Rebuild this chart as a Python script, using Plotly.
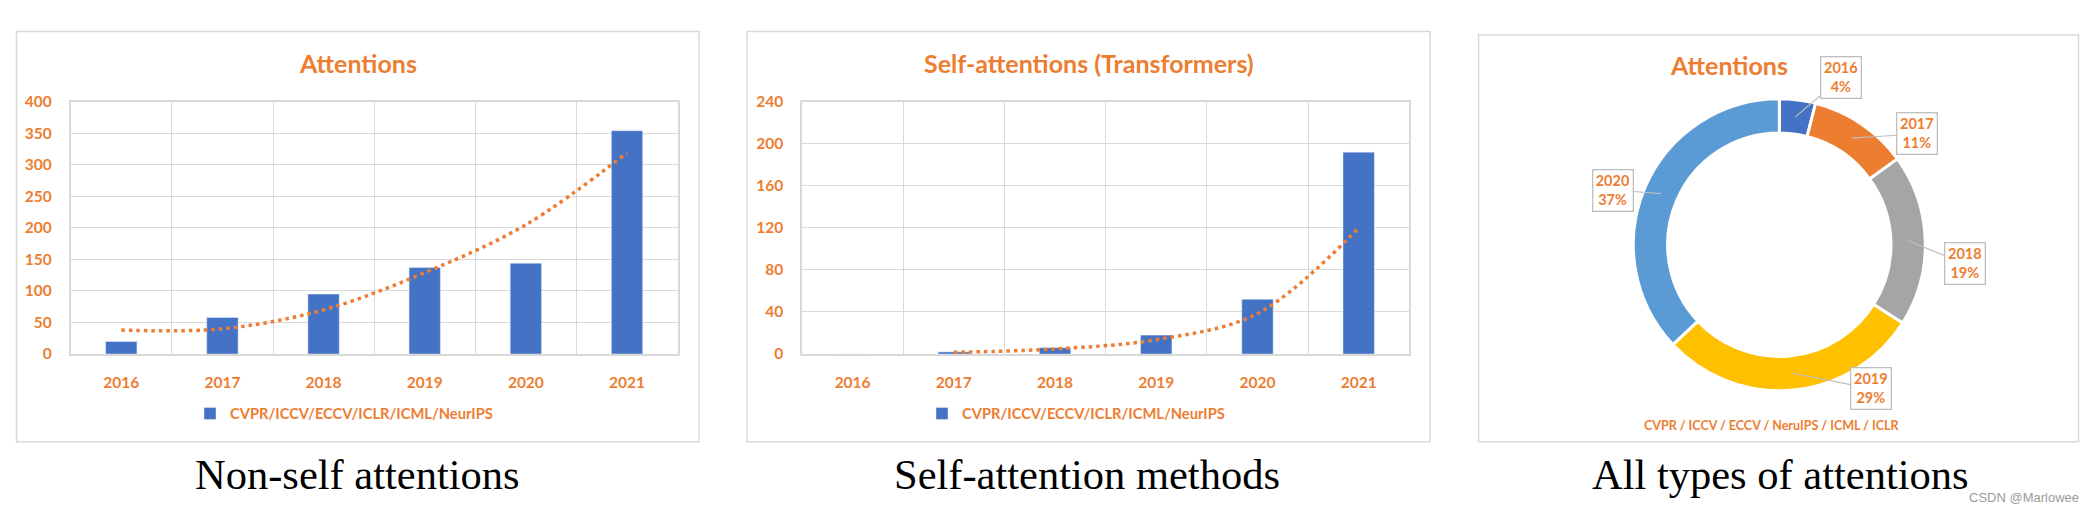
import math
import plotly.graph_objects as go

# ---------------- data ----------------
years = ['2016', '2017', '2018', '2019', '2020', '2021']
nonself_counts = [20, 58, 95, 137, 144, 354]
nonself_trend = [38, 40, 70, 129, 205, 319]          # read from the dotted trendline
self_counts = [0, 2, 6, 18, 52, 192]
self_trend = [None, 1.6, 4.8, 13.7, 38.5, 120]       # read from the dotted trendline
y_ticks_nonself = [0, 50, 100, 150, 200, 250, 300, 350, 400]
y_ticks_self = [0, 40, 80, 120, 160, 200, 240]

pie_years = ['2016', '2017', '2018', '2019', '2020']
pie_percent = [4, 11, 19, 29, 37]

series_name = 'CVPR/ICCV/ECCV/ICLR/ICML/NeurIPS'
pie_caption = 'CVPR / ICCV / ECCV / NeruIPS / ICML / ICLR'
titles = ['Attentions', 'Self-attentions (Transformers)', 'Attentions']
captions = ['Non-self attentions', 'Self-attention methods', 'All types of attentions']

# ---------------- style ----------------
W, H = 2093, 512
ORANGE = '#ED7D31'
BLUE = '#4472C4'
GRID = '#D9D9D9'
FONT = 'Lato'
pie_colors = ['#4472C4', '#ED7D31', '#A5A5A5', '#FFC000', '#5B9BD5']


def px(x):
    return x / W


def py(y):
    return 1 - y / H


fig = go.Figure()

trend_line = dict(color=ORANGE, width=3.5, dash='3.5px,4px', shape='spline')

fig.add_trace(go.Bar(x=years, y=nonself_counts, name=series_name, marker_color=BLUE,
                     xaxis='x', yaxis='y', legend='legend'))
fig.add_trace(go.Scatter(x=years, y=nonself_trend, mode='lines', line=trend_line,
                         showlegend=False, hoverinfo='skip', xaxis='x', yaxis='y'))
fig.add_trace(go.Bar(x=years, y=self_counts, name=series_name, marker_color=BLUE,
                     xaxis='x2', yaxis='y2', legend='legend2'))
fig.add_trace(go.Scatter(x=years, y=self_trend, mode='lines', line=trend_line,
                         showlegend=False, hoverinfo='skip', xaxis='x2', yaxis='y2'))

# donut
cx, cy, R = 1779.3, 244.7, 146.0
hole = 0.765
fig.add_trace(go.Pie(labels=pie_years, values=pie_percent, hole=hole, sort=False,
                     direction='clockwise', rotation=0,
                     marker=dict(colors=pie_colors, line=dict(color='white', width=3)),
                     textinfo='none', showlegend=False, hoverinfo='label+percent',
                     domain=dict(x=[px(cx - R), px(cx + R)], y=[py(cy + R), py(cy - R)])))

tick_font = dict(family=FONT, size=15.5, color=ORANGE, weight='bold')
xcommon = dict(type='category', tickson='boundaries', showgrid=True, gridcolor=GRID,
               gridwidth=1.3, showline=True, linecolor=GRID, linewidth=1.5, mirror=True,
               ticks='', tickfont=tick_font, ticklabelstandoff=14, fixedrange=True,
               automargin=False)
ycommon = dict(showgrid=True, gridcolor=GRID, gridwidth=1.3, showline=True, linecolor=GRID,
               linewidth=1.5, mirror=True, ticks='', zeroline=False, tickfont=tick_font,
               ticklabelstandoff=14, fixedrange=True, automargin=False)

legend_font = dict(family=FONT, size=14.7, color=ORANGE, weight='bold')
ydom = [py(354), py(101.7)]
fig.update_layout(
    width=W, height=H, margin=dict(l=0, r=0, t=0, b=0, pad=0),
    paper_bgcolor='white', plot_bgcolor='white', bargap=0.69,
    xaxis=dict(domain=[px(70.7), px(677.6)], **xcommon),
    yaxis=dict(domain=ydom, range=[0, 400], tickvals=y_ticks_nonself, **ycommon),
    xaxis2=dict(domain=[px(802), px(1409.3)], anchor='y2', **xcommon),
    yaxis2=dict(domain=ydom, range=[0, 240], tickvals=y_ticks_self, anchor='x2', **ycommon),
    legend=dict(x=px(190), y=py(414), xanchor='left', yanchor='middle',
                font=legend_font, bgcolor='rgba(0,0,0,0)'),
    legend2=dict(x=px(922), y=py(414), xanchor='left', yanchor='middle',
                 font=legend_font, bgcolor='rgba(0,0,0,0)'),
)

# panel frames
for (x0, y0, x1, y1) in [(16.5, 31.5, 699, 441.7), (747, 31.5, 1430, 441.7), (1478.6, 35, 2078.5, 441.7)]:
    fig.add_shape(type='rect', xref='paper', yref='paper', x0=px(x0), x1=px(x1), y0=py(y1), y1=py(y0),
                  line=dict(color=GRID, width=1.5), layer='below')

ann = []
title_pos = [(358, 63), (1089, 63), (1728.5, 65)]
for t, (x, y) in zip(titles, title_pos):
    ann.append(dict(text=t, x=px(x), y=py(y), xref='paper', yref='paper', showarrow=False,
                    xanchor='center', yanchor='middle',
                    font=dict(family=FONT, size=25, color=ORANGE, weight='bold')))

caption_pos = [357, 1087, 1780]
for c, x in zip(captions, caption_pos):
    ann.append(dict(text=c, x=px(x), y=py(474), xref='paper', yref='paper', showarrow=False,
                    xanchor='center', yanchor='middle',
                    font=dict(family='Liberation Serif', size=42.5, color='black')))

ann.append(dict(text=pie_caption, x=px(1771), y=py(425), xref='paper', yref='paper', showarrow=False,
                xanchor='center', yanchor='middle',
                font=dict(family=FONT, size=12.5, color=ORANGE, weight='bold')))

ann.append(dict(text='CSDN @Marlowee', x=px(2023.5), y=py(497), xref='paper', yref='paper',
                showarrow=False, xanchor='center', yanchor='middle',
                font=dict(family='Liberation Sans', size=13, color='#9A9A9A')))

# donut callouts: tip at the middle of each ring segment, box offset in pixels
label_offsets = [(45.6, -38.9), (65.3, -4.2), (56.5, 23.3), (79.6, 15.6), (-48.1, -3.5)]
total = sum(pie_percent)
r_mid = R * (1 + hole) / 2
cum = 0
for yr, pct, (dx, dy) in zip(pie_years, pie_percent, label_offsets):
    mid = (cum + pct / 2) / total * 2 * math.pi
    cum += pct
    tx = cx + r_mid * math.sin(mid)
    ty = cy - r_mid * math.cos(mid)
    ann.append(dict(text=f'{yr}<br>{pct}%', x=px(tx), y=py(ty), xref='paper', yref='paper',
                    showarrow=True, ax=dx, ay=dy, arrowhead=0, arrowwidth=1.2, arrowcolor='#BFBFBF',
                    standoff=0, bgcolor='white', bordercolor='#BFBFBF', borderwidth=1.3,
                    borderpad=1.5, width=36, height=37,
                    font=dict(family=FONT, size=14.5, color=ORANGE, weight='bold')))

fig.update_layout(annotations=ann)
fig.write_html('out.html', config={'displayModeBar': False},
               post_script="document.body.style.margin='0';document.body.style.overflow='hidden';")
